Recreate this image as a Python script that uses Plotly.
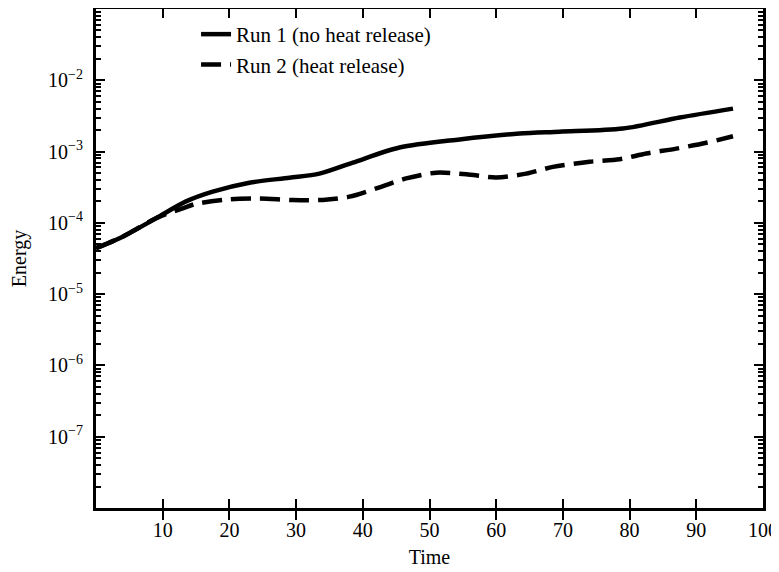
import plotly.graph_objects as go

# ---- data ----
run1_time = [0, 4, 9, 13.5, 17.5, 23, 29, 33.5, 38.5, 45.5, 54.5, 63.5, 69.5, 79, 87.5, 95.5]
run1_energy = [4.4e-5, 6.4e-5, 1.16e-4, 2.0e-4, 2.74e-4, 3.66e-4, 4.3e-4, 4.9e-4, 7.0e-4,
               1.14e-3, 1.48e-3, 1.79e-3, 1.9e-3, 2.1e-3, 3.0e-3, 4.0e-3]

run2_time = [0, 4, 9, 13, 15, 20, 24.5, 29.5, 34, 38, 42.5, 46.5, 51, 55.5, 60, 64.5,
             68.5, 74, 78.5, 82.5, 87, 91.5, 95.5]
run2_energy = [4.4e-5, 6.4e-5, 1.16e-4, 1.6e-4, 1.85e-4, 2.14e-4, 2.2e-4, 2.09e-4, 2.1e-4,
               2.33e-4, 3.15e-4, 4.2e-4, 5.05e-4, 4.8e-4, 4.34e-4, 4.9e-4, 6.1e-4, 7.2e-4,
               7.8e-4, 9.4e-4, 1.1e-3, 1.33e-3, 1.64e-3]

x_tickvals = [10, 20, 30, 40, 50, 60, 70, 80, 90, 100]
y_exponents = [-7, -6, -5, -4, -3, -2]
y_tickvals = [10.0 ** e for e in y_exponents]
y_ticktext = ["10<sup>\u2212%d</sup>" % (-e) for e in y_exponents]
y_minor = [m * 10.0 ** e for e in range(-8, -1) for m in range(2, 10)]

FONT = "Liberation Serif"
FS = 20

fig = go.Figure()
fig.add_trace(go.Scatter(
    x=run1_time, y=run1_energy, mode="lines", name="Run 1 (no heat release)",
    line=dict(color="black", width=4.5, shape="spline", smoothing=0.8),
))
fig.add_trace(go.Scatter(
    x=run2_time, y=run2_energy, mode="lines", name="Run 2 (heat release)",
    line=dict(color="black", width=4.5, shape="spline", smoothing=0.8, dash="20px,9px"),
))
# invisible copy on a right-hand axis so the right frame carries the same minor ticks
fig.add_trace(go.Scatter(
    x=run1_time, y=run1_energy, mode="lines", yaxis="y2", showlegend=False,
    hoverinfo="skip", line=dict(color="rgba(0,0,0,0)", width=0),
))

axis_common = dict(
    type="log", range=[-8, -1], tickmode="array", tickvals=y_tickvals,
    ticks="inside", ticklen=9, tickwidth=2, tickcolor="black",
    showline=True, linewidth=3, linecolor="black",
    showgrid=False, zeroline=False, automargin=False,
    minor=dict(tickmode="array", tickvals=y_minor, ticks="inside",
               ticklen=5, tickwidth=2, tickcolor="black", showgrid=False),
)

# the page body adds an 8px offset, so the figure is 8px smaller than the window
fig.update_layout(
    width=771, height=564,
    margin=dict(l=88, r=16, t=1, b=64),
    paper_bgcolor="white", plot_bgcolor="white",
    font=dict(family=FONT, size=FS, color="black"),
    showlegend=True,
    legend=dict(x=0.15, y=0.99, xanchor="left", yanchor="top",
                bgcolor="rgba(0,0,0,0)", font=dict(family=FONT, size=21),
                tracegroupgap=0, itemwidth=30),
    xaxis=dict(
        range=[0, 100], tickmode="array", tickvals=x_tickvals,
        ticks="inside", ticklen=9, tickwidth=2, tickcolor="black",
        showline=True, linewidth=3, linecolor="black", mirror="allticks",
        showgrid=False, zeroline=False, automargin=False, ticklabelstandoff=2,
        title=dict(text="Time", font=dict(family=FONT, size=FS), standoff=10),
        tickfont=dict(family=FONT, size=FS),
    ),
    yaxis=dict(
        **axis_common, ticktext=y_ticktext, side="left", ticklabelstandoff=6,
        title=dict(text="Energy", font=dict(family=FONT, size=FS), standoff=22),
        tickfont=dict(family=FONT, size=FS),
    ),
    yaxis2=dict(
        **axis_common, overlaying="y", side="right", showticklabels=False,
    ),
)

fig.write_html("out.html")
